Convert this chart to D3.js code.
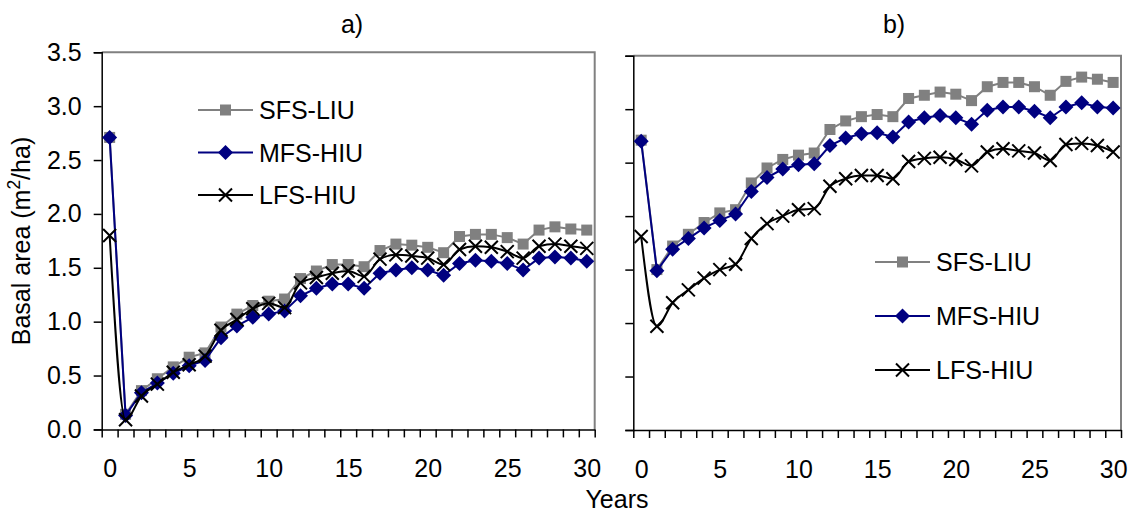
<!DOCTYPE html>
<html>
<head>
<meta charset="utf-8">
<script src="https://cdn.jsdelivr.net/npm/d3@7"></script>
<style>
  body { margin: 0; background: #fff; }
  text { font-family: "Liberation Sans", Arial, sans-serif; fill: #000; }
</style>
</head>
<body>
<svg id="chart" width="1134" height="514"></svg>
<script>
// Years since treatment (category axis)
const years = d3.range(0, 31);
const xTickLabels = [0, 5, 10, 15, 20, 25, 30];
const yTicks = [0, 0.5, 1.0, 1.5, 2.0, 2.5, 3.0, 3.5];
const seriesNames = ["SFS-LIU", "MFS-HIU", "LFS-HIU"];

// Panel a) basal area (m2/ha)
const sfsA = [2.71, 0.14, 0.36, 0.47, 0.58, 0.67, 0.71, 0.95, 1.07, 1.15, 1.19, 1.21, 1.40, 1.47, 1.53, 1.53,
              1.51, 1.66, 1.72, 1.71, 1.69, 1.64, 1.79, 1.81, 1.81, 1.78, 1.72, 1.85, 1.88, 1.86, 1.85];
const mfsA = [2.71, 0.13, 0.34, 0.43, 0.52, 0.59, 0.64, 0.85, 0.96, 1.04, 1.07, 1.10, 1.24, 1.31, 1.35, 1.35,
              1.31, 1.45, 1.48, 1.50, 1.48, 1.43, 1.54, 1.57, 1.56, 1.54, 1.48, 1.59, 1.60, 1.59, 1.56];
const lfsA = [1.80, 0.09, 0.31, 0.42, 0.53, 0.60, 0.68, 0.92, 1.02, 1.12, 1.17, 1.13, 1.36, 1.41, 1.45, 1.47,
              1.42, 1.58, 1.62, 1.61, 1.59, 1.53, 1.67, 1.70, 1.69, 1.65, 1.59, 1.70, 1.72, 1.70, 1.68];

// Panel b) basal area (m2/ha)
const sfsB = [2.71, 1.50, 1.72, 1.83, 1.94, 2.03, 2.06, 2.31, 2.45, 2.53, 2.57, 2.59, 2.81, 2.89, 2.93, 2.95,
              2.93, 3.10, 3.13, 3.16, 3.14, 3.08, 3.21, 3.25, 3.25, 3.21, 3.13, 3.26, 3.30, 3.28, 3.25];
const mfsB = [2.70, 1.49, 1.69, 1.79, 1.89, 1.96, 2.02, 2.23, 2.36, 2.44, 2.48, 2.49, 2.66, 2.73, 2.77, 2.78,
              2.74, 2.88, 2.92, 2.94, 2.92, 2.86, 2.99, 3.02, 3.02, 2.98, 2.92, 3.02, 3.06, 3.02, 3.01];
const lfsB = [1.81, 0.97, 1.19, 1.31, 1.42, 1.50, 1.55, 1.79, 1.93, 2.00, 2.06, 2.07, 2.28, 2.35, 2.38, 2.38,
              2.35, 2.51, 2.54, 2.55, 2.53, 2.47, 2.60, 2.63, 2.61, 2.59, 2.52, 2.67, 2.68, 2.66, 2.60];

const FONT = 25;
const svg = d3.select("#chart");

const styles = {
  "SFS-LIU": { color: "#808080", marker: "square", curve: d3.curveLinear },
  "MFS-HIU": { color: "#000080", marker: "diamond", curve: d3.curveLinear },
  "LFS-HIU": { color: "#000000", marker: "cross", curve: d3.curveMonotoneX }
};

function drawMarker(g, type, color, cx, cy) {
  if (type === "square") {
    g.append("rect").attr("x", cx - 5.5).attr("y", cy - 5.5)
      .attr("width", 11).attr("height", 11).attr("fill", color);
  } else if (type === "diamond") {
    const r = 7.5;
    g.append("path")
      .attr("d", `M${cx},${cy - r}L${cx + r},${cy}L${cx},${cy + r}L${cx - r},${cy}Z`)
      .attr("fill", color);
  } else {
    const r = 6.5;
    g.append("path")
      .attr("d", `M${cx - r},${cy - r}L${cx + r},${cy + r}M${cx - r},${cy + r}L${cx + r},${cy - r}`)
      .attr("stroke", color).attr("stroke-width", 2).attr("fill", "none");
  }
}

function drawPanel(p) {
  const x = d3.scaleLinear().domain([-0.5, 30.5]).range([p.left, p.right]);
  const y = d3.scaleLinear().domain([0, 3.5]).range([p.bottom, p.top]);
  const g = svg.append("g");

  // plot-area frame (top and right edges)
  g.append("path")
    .attr("d", `M${p.left},${p.top}H${p.right}V${p.bottom}`)
    .attr("fill", "none").attr("stroke", "#808080").attr("stroke-width", 2);

  // y axis
  const yAxis = d3.axisLeft(y).tickValues(yTicks).tickSize(8).tickPadding(12)
    .tickFormat(p.yLabels ? d3.format(".1f") : () => "");
  const ya = g.append("g").attr("transform", `translate(${p.left},0)`).call(yAxis);
  ya.select(".domain").attr("stroke", "#000").attr("stroke-width", 1.5);
  ya.selectAll(".tick line").attr("stroke", "#000").attr("stroke-width", 1.5);
  ya.selectAll("text").attr("font-size", FONT).attr("font-family", null);

  // x axis: tick marks between categories
  const xAxis = d3.axisBottom(x).tickValues(d3.range(-0.5, 31, 1)).tickSize(8).tickFormat(() => "")
    .tickSizeOuter(0);
  const xa = g.append("g").attr("transform", `translate(0,${p.bottom})`).call(xAxis);
  xa.select(".domain").attr("stroke", "#000").attr("stroke-width", 1.5);
  xa.selectAll(".tick line").attr("stroke", "#000").attr("stroke-width", 1.5);

  // x labels at category centres
  const xl = g.append("g").attr("transform", `translate(0,${p.bottom})`)
    .call(d3.axisBottom(x).tickValues(xTickLabels).tickSize(0).tickPadding(30));
  xl.select(".domain").remove();
  xl.selectAll("text").attr("font-size", FONT).attr("font-family", null);

  // title
  g.append("text").attr("x", p.titleX).attr("y", 33).attr("text-anchor", "middle")
    .attr("font-size", FONT).text(p.title);

  // series
  p.series.forEach((vals, si) => {
    const name = seriesNames[si];
    const st = styles[name];
    const line = d3.line().x((d, i) => x(years[i])).y(d => y(d)).curve(st.curve);
    g.append("path").datum(vals).attr("d", line)
      .attr("fill", "none").attr("stroke", st.color).attr("stroke-width", 2);
    const mg = g.append("g");
    vals.forEach((v, i) => drawMarker(mg, st.marker, st.color, x(years[i]), y(v)));
  });

  // legend
  seriesNames.forEach((name, si) => {
    const st = styles[name];
    const ly = p.legend.y + si * p.legend.dy;
    g.append("line").attr("x1", p.legend.x).attr("x2", p.legend.x + 55)
      .attr("y1", ly).attr("y2", ly).attr("stroke", st.color).attr("stroke-width", 2);
    drawMarker(g, st.marker, st.color, p.legend.x + 27.5, ly);
    g.append("text").attr("x", p.legend.x + 61).attr("y", ly).attr("dy", "0.36em")
      .attr("font-size", FONT).text(name);
  });
}

drawPanel({
  left: 101.7, right: 594.7, top: 52.3, bottom: 429.4, yLabels: true,
  title: "a)", titleX: 352, series: [sfsA, mfsA, lfsA],
  legend: { x: 198, y: 110, dy: 42.5 }
});
drawPanel({
  left: 633.3, right: 1121, top: 55.7, bottom: 430, yLabels: false,
  title: "b)", titleX: 894, series: [sfsB, mfsB, lfsB],
  legend: { x: 875, y: 262, dy: 54 }
});

// shared axis titles
const yt = svg.append("text").attr("transform", "translate(30,241) rotate(-90)")
  .attr("text-anchor", "middle").attr("font-size", FONT);
yt.append("tspan").text("Basal area (m");
yt.append("tspan").attr("baseline-shift", "super").attr("font-size", FONT * 0.7).text("2");
yt.append("tspan").text("/ha)");

svg.append("text").attr("x", 617).attr("y", 508).attr("text-anchor", "middle")
  .attr("font-size", FONT).text("Years");
</script>
</body>
</html>
